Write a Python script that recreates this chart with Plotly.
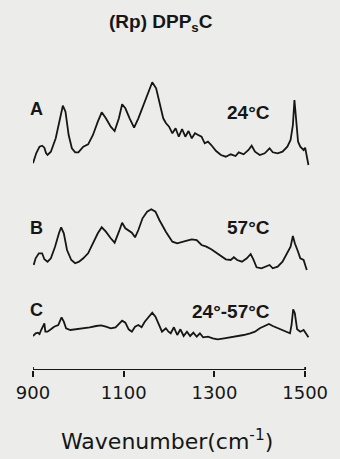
import plotly.graph_objects as go

# ---- data (wavenumber in cm^-1, relative intensity in arbitrary units) ----
wn_A = [900, 907.3, 914.4, 920.1, 925.1, 928.7, 932.1, 939.4, 950.1, 960.9, 965.8, 971.6, 978.6,
        985.7, 993, 1000.1, 1010.8, 1021.5, 1032.2, 1042.9, 1051.5, 1060.7, 1071.4, 1080, 1089.4,
        1096.5, 1103.6, 1113, 1122.9, 1132.3, 1146.4, 1157.1, 1162.9, 1171.5, 1178.6, 1187.1,
        1192.9, 1200, 1207.3, 1214.4, 1221.4, 1228.7, 1235.8, 1242.9, 1250.1, 1257.2, 1264.3,
        1271.6, 1278.6, 1285.7, 1293, 1303.7, 1314.4, 1325.1, 1335.9, 1346.6, 1353.6, 1364.4,
        1375.1, 1382.1, 1389.4, 1400.1, 1410.9, 1421.6, 1428.6, 1439.4, 1450.1, 1460.8, 1467.9,
        1473, 1476.4, 1480.1, 1484.4, 1489.3, 1496.6, 1500, 1507.3]
int_A = [6.7, 17, 23.3, 24.3, 22.3, 17, 15, 18.3, 31.7, 55, 64.3, 58.3, 35,
         21.7, 17.7, 17.7, 23.3, 25.7, 35, 48.3, 57.7, 51.7, 43.3, 39, 51.7,
         65.7, 61.7, 51.7, 42.3, 51.7, 68.3, 81.7, 87.7, 81.7, 68.3, 51.7,
         47, 43.3, 36.7, 41.7, 33.3, 41, 33.3, 39, 31.7, 36.7, 35,
         33.3, 26.7, 28.3, 25, 19, 15, 13.3, 15.7, 14, 17.7, 15.7,
         20, 24.3, 18.3, 15, 16.7, 21.7, 17.7, 16.7, 18.3, 23.3, 30,
         45, 70, 48.3, 28.3, 23.3, 20, 22.3, 5]

wn_B = [901.5, 905.8, 912.9, 920.1, 925.1, 932.1, 939.4, 948.6, 957.2, 962.1, 967.9, 975, 984.4,
        993, 1001.6, 1010.8, 1021.5, 1032.2, 1042.9, 1051.5, 1060.7, 1071.4, 1080, 1089.4, 1096.5,
        1103.6, 1110.9, 1117.9, 1125, 1132.3, 1141.5, 1151.6, 1160.8, 1170, 1178.6, 1189.3,
        1192.9, 1200, 1207.3, 1218, 1228.7, 1239.4, 1250.1, 1260.9, 1271.6, 1282.3, 1293,
        1303.7, 1314.4, 1325.1, 1335.9, 1342.9, 1350, 1360.7, 1371.4, 1380, 1385.8, 1392.9,
        1403.6, 1414.3, 1421.6, 1428.6, 1439.4, 1450.1, 1460.8, 1467.9, 1473, 1477.3, 1484.4,
        1489.3, 1496.6, 1503.6]
int_B = [10, 16.7, 21.7, 21.7, 15.7, 13.3, 16.7, 28.3, 41.7, 47.7, 41.7, 25, 15,
         11.7, 13.3, 16.7, 21.7, 31.7, 41.7, 47.7, 43.3, 36.7, 32.3, 43.3, 52.3,
         46.7, 44.3, 42.3, 37.7, 45, 56.7, 63.3, 65.7, 63.3, 55, 45,
         43.3, 38.3, 33.3, 31.7, 33.3, 34.3, 35.7, 35, 30, 28.3, 25.7,
         22.3, 19, 15.7, 15, 17.7, 15, 13.3, 16.7, 21, 15.7, 7.7,
         6.7, 8.3, 10, 6.7, 8.3, 13.3, 21.7, 28.3, 39, 31.7, 23.3,
         16.7, 15, 5]

wn_C = [900, 905.8, 910.7, 914.4, 918, 921.4, 925.1, 927.2, 932.1, 939.4, 946.5, 955.7, 963,
        967.9, 972.9, 982.3, 996.4, 1010.8, 1025.1, 1039.3, 1050, 1060.7, 1071.4, 1082.1, 1089.4,
        1096.5, 1103.6, 1110.9, 1117.9, 1125, 1132.3, 1139.4, 1146.4, 1155.9, 1162.9, 1170,
        1177.3, 1184.4, 1192.9, 1198.7, 1203.6, 1210.7, 1218, 1225.1, 1232.1, 1239.4, 1246.5,
        1253.6, 1260.9, 1268, 1275, 1285.7, 1296.4, 1307.1, 1321.5, 1335.9, 1350, 1364.4,
        1378.7, 1389.4, 1400.1, 1410.9, 1420.1, 1428.6, 1439.4, 1450.1, 1460.8, 1466.6, 1470,
        1473.6, 1477.3, 1482.3, 1489.3, 1496.6, 1501.5, 1507.3]
int_C = [9, 11.7, 12.3, 11, 15, 17.7, 21.7, 13.3, 13.3, 15.7, 18.3, 20, 27.7,
         23.3, 16.7, 15, 15.7, 16.3, 17.7, 19, 19.7, 18.3, 16.7, 17.7, 21,
         24.3, 22.3, 15.7, 13.3, 18.3, 20, 17.7, 23.3, 29, 32.3, 28.3,
         20, 13.3, 16.7, 13.3, 11.7, 17.7, 10, 15.7, 9, 13.3, 9,
         12.3, 8.3, 11.7, 7.7, 8.3, 6.7, 5.7, 6.7, 7.7, 9, 10,
         11.7, 13.3, 16.7, 19, 21, 19, 16.7, 15, 12.3, 11.7, 20,
         35.7, 31.7, 15.7, 13.3, 15, 11.7, 7.7]

panel_labels = ["A", "B", "C"]
temp_labels = ["24°C", "57°C", "24°-57°C"]
tick_vals = [900, 1100, 1300, 1500]
tick_text = ["900", "1100", "1300", "1500"]
x_title = "Wavenumber(cm<sup>-1</sup>)"
chart_title = "(Rp) DPP<sub>s</sub>C"

# ---- layout constants ----
W, H = 340, 459
ML, MT, MB = 33, 60, 89
PW = 285                      # plot width in px
PH = H - MT - MB              # plot height in px
PX_PER_WN = 280 / 600         # 600 cm^-1 spans 280 px
x_max = 900 + PW / PX_PER_WN
offsets = [200, 95, 25]       # vertical stacking offsets (px units)
INK = "#161616"

fig = go.Figure()
for wn, inten, off in zip([wn_A, wn_B, wn_C], [int_A, int_B, int_C], offsets):
    fig.add_trace(go.Scatter(
        x=wn, y=[v + off for v in inten], mode="lines",
        line=dict(color=INK, width=1.8),
        hoverinfo="skip", showlegend=False))

ann = []
label_y = [261, 141.7, 60]
temp_y = [257.5, 142.5, 59]
for lab, ly in zip(panel_labels, label_y):
    ann.append(dict(x=908, y=ly, xref="x", yref="y", text="<b>%s</b>" % lab, showarrow=False,
                    font=dict(family="Liberation Sans", size=18, color=INK),
                    xanchor="center", yanchor="middle"))
for lab, ty in zip(temp_labels, temp_y):
    ann.append(dict(x=1426, y=ty, xref="x", yref="y", text="<b>%s</b>" % lab, showarrow=False,
                    font=dict(family="Liberation Sans", size=19, color=INK),
                    xanchor="right", yanchor="middle"))

ann.append(dict(x=(165 - ML) / PW, y=(370 - 23) / PH, xref="paper", yref="paper",
                text="<b>%s</b>" % chart_title, showarrow=False,
                font=dict(family="Liberation Sans", size=19, color=INK),
                xanchor="center", yanchor="middle"))
ann.append(dict(x=(170.5 - ML) / PW, y=(370 - 440) / PH, xref="paper", yref="paper",
                text=x_title, showarrow=False,
                font=dict(family="DejaVu Sans", size=22, color=INK),
                xanchor="center", yanchor="middle"))

fig.update_layout(
    width=W, height=H,
    margin=dict(l=ML, r=W - ML - PW, t=MT, b=MB, pad=0),
    paper_bgcolor="#ececea", plot_bgcolor="#ececea",
    annotations=ann,
    shapes=[dict(type="line", xref="x", yref="y", x0=900, x1=1500, y0=0, y1=0,
                 line=dict(color=INK, width=1.8)),
            dict(type="line", xref="x", yref="y", x0=900, x1=900, y0=0, y1=3,
                 line=dict(color=INK, width=1.8)),
            dict(type="line", xref="x", yref="y", x0=1500, x1=1500, y0=0, y1=3,
                 line=dict(color=INK, width=1.8))],
    xaxis=dict(range=[900, x_max], showgrid=False, zeroline=False, showline=False,
               tickmode="array", tickvals=tick_vals, ticktext=tick_text,
               ticks="outside", ticklen=6, tickwidth=1.8, tickcolor=INK,
               tickfont=dict(family="DejaVu Sans", size=18, color=INK)),
    yaxis=dict(range=[0, PH], showgrid=False, zeroline=False, showline=False,
               showticklabels=False, ticks=""),
)

fig.write_html("out.html")
